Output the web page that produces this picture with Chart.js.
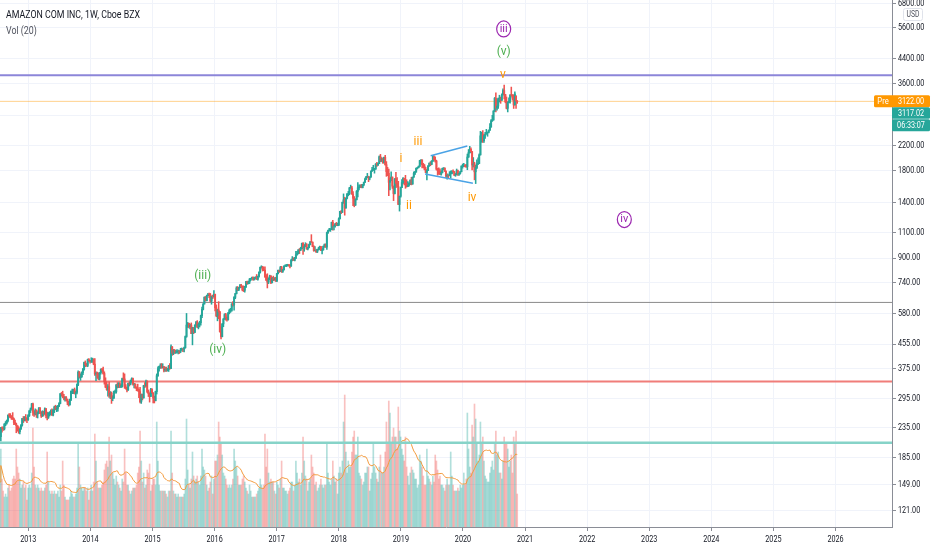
<!DOCTYPE html>
<html>
<head>
<meta charset="utf-8">
<script src="https://cdn.jsdelivr.net/npm/chart.js@4.4.1/dist/chart.umd.min.js"></script>
<style>
  html, body { margin: 0; padding: 0; background: #ffffff; overflow: hidden; }
  canvas { display: block; }
</style>
</head>
<body>
<canvas id="amznChart" width="932" height="550"></canvas>
<script>
// weekly candles, first bar = week of 16 Jul 2012, one row per calendar year
const firstWeek = Date.UTC(2012, 6, 16);

const opens = [
  222,218,234,233,232,241,243,248,259,257,255,254,251,244,241,238,234,227,232,239,252,250,254,251,250,
  258,268,272,283,265,261,269,261,264,274,263,257,266,262,272,258,254,263,264,267,259,270,276,271,273,278,284,307,306,300,296,297,293,287,281,293,313,313,317,310,310,330,364,350,351,362,372,393,386,384,402,399,
  397,398,399,388,359,361,357,346,362,372,370,360,338,323,317,324,303,308,297,297,312,312,329,327,332,325,327,346,345,324,321,316,333,331,339,346,331,331,323,322,317,312,288,305,297,327,326,338,312,307,300,318,
  309,296,290,312,354,374,381,383,380,380,370,373,370,372,382,375,445,423,433,426,427,430,430,429,434,438,437,442,483,529,536,522,529,494,518,499,529,540,521,532,539,570,599,625,659,642,668,673,672,640,665,662,
  675,607,570,596,587,502,482,534,555,575,561,552,583,594,594,625,620,659,679,710,702,712,725,717,699,697,717,746,735,744,758,766,772,757,769,774,761,778,805,837,839,822,818,776,755,744,760,780,740,768,757,760,
  750,795,817,808,835,810,821,845,845,850,853,852,845,886,894,884,898,924,934,961,959,971,1011,978,987,1003,968,978,1001,1025,1021,987,956,958,945,965,965,986,956,961,989,1002,982,1100,1120,1126,1129,1195,1162,1162,1179,1168,
  1169,1229,1305,1294,1402,1429,1339,1448,1500,1500,1571,1571,1495,1447,1371,1430,1527,1572,1580,1602,1574,1610,1641,1683,1715,1715,1700,1711,1797,1813,1818,1823,1896,1882,1905,2012,1952,1970,1915,2003,1889,1788,1764,1642,1665,1712,1593,1502,1690,1629,1591,1377,1470,
  1575,1640,1696,1670,1626,1588,1607,1631,1671,1620,1712,1764,1781,1837,1843,1864,1951,1962,1889,1869,1823,1775,1804,1870,1911,1893,1942,2011,1965,1943,1823,1807,1792,1749,1776,1833,1839,1794,1725,1739,1731,1761,1761,1791,1785,1739,1745,1800,1751,1760,1786,1869,
  1875,1883,1864,1861,2008,2079,2134,2095,1884,1901,1785,1846,1901,1906,2043,2375,2410,2286,2380,2409,2437,2443,2483,2546,2676,2693,2891,3200,2961,3008,3164,3167,3149,3285,3401,3294,3116,2954,3095,3125,3287,3273,3204,3036,3250,3128
];
const highs = [
  228,235,236,236,242,246,249,259,262,262,258,264,253,249,243,238,236,232,240,252,256,256,260,253,260,
  268,274,284,285,266,272,270,266,275,275,266,268,267,274,273,265,264,266,270,272,270,278,280,278,280,286,307,310,313,305,300,300,294,289,294,313,318,318,321,313,332,368,366,359,365,375,394,398,390,404,405,400,
  408,407,405,405,365,364,362,363,374,375,379,365,348,337,330,337,312,311,302,313,316,330,335,335,335,331,347,362,359,330,323,334,336,342,348,347,333,332,324,331,318,323,306,306,328,335,342,340,316,309,320,319,
  309,301,313,359,380,382,389,390,389,381,379,379,375,384,390,452,446,436,436,433,435,434,432,440,441,439,444,485,580,540,537,533,538,520,519,530,545,548,538,545,572,610,627,662,664,671,680,682,680,666,671,696,
  677,621,600,637,590,522,535,557,579,580,563,584,600,604,627,637,663,680,717,718,714,731,731,722,722,720,748,750,749,766,767,774,775,772,776,790,780,807,838,847,843,838,840,789,795,770,786,783,772,780,771,773,
  797,818,818,843,843,822,847,853,856,857,855,853,890,911,903,905,949,950,962,971,981,1013,1017,1001,1017,1010,979,1005,1027,1084,1023,993,987,962,967,980,990,988,973,990,1007,1008,1107,1123,1140,1138,1198,1214,1172,1185,1195,1188,
  1239,1305,1311,1403,1498,1459,1449,1500,1528,1578,1606,1591,1525,1467,1441,1539,1638,1611,1610,1616,1616,1646,1699,1722,1763,1724,1716,1797,1851,1880,1835,1906,1925,1915,2025,2050,1998,1989,2007,2033,1936,1850,1823,1698,1785,1713,1594,1691,1779,1704,1655,1473,1582,
  1677,1706,1697,1736,1676,1651,1634,1674,1709,1712,1784,1793,1838,1849,1870,1956,1964,1963,1910,1892,1849,1818,1874,1916,1935,1952,2035,2026,2010,1957,1834,1842,1829,1800,1838,1846,1841,1798,1758,1742,1788,1798,1801,1815,1790,1762,1825,1810,1766,1792,1870,1899,
  1910,1886,1895,2055,2130,2185,2158,2100,1999,1926,1880,1963,1993,2058,2461,2445,2475,2395,2440,2500,2450,2489,2620,2701,2796,2900,3220,3344,3190,3207,3278,3232,3315,3451,3552,3301,3232,3115,3210,3288,3497,3297,3291,3366,3270,3142
];
const lows = [
  215,211,226,229,230,238,241,245,254,253,250,250,240,240,225,228,224,223,231,237,244,247,247,244,248,
  256,264,271,258,256,259,254,253,262,262,254,256,257,260,253,249,252,257,259,258,257,264,270,266,267,277,283,301,297,292,289,290,281,278,280,290,307,307,306,297,306,327,347,341,349,357,370,380,381,380,396,391,
  393,393,386,355,340,347,343,342,358,365,358,331,322,315,301,298,295,284,290,295,308,308,321,322,322,322,323,340,320,318,311,315,326,329,336,328,321,320,314,313,297,285,284,292,296,322,325,309,300,287,300,307,
  285,285,290,306,352,367,375,375,376,365,366,366,367,366,373,374,416,418,422,422,424,421,422,425,433,428,427,440,480,519,517,513,494,452,494,498,523,518,513,521,528,561,597,625,640,641,666,658,636,624,652,660,
  592,565,547,556,500,474,482,522,553,550,545,550,578,585,590,614,595,652,677,695,695,710,712,694,690,687,712,731,733,735,752,763,756,757,763,760,755,774,799,831,812,814,772,754,710,735,758,735,739,752,755,748,
  747,793,803,808,803,803,818,842,841,845,844,833,843,880,884,880,897,922,930,933,955,969,927,950,985,965,960,976,1000,1020,985,950,953,941,940,958,964,955,931,958,980,980,965,1095,1115,1112,1128,1124,1125,1150,1165,1163,
  1165,1228,1280,1293,1390,1265,1338,1440,1475,1488,1566,1495,1365,1352,1366,1428,1462,1546,1576,1572,1571,1598,1640,1676,1704,1651,1675,1710,1792,1804,1766,1822,1863,1878,1905,1935,1936,1912,1914,1880,1722,1731,1476,1545,1663,1565,1420,1497,1575,1580,1377,1307,1459,
  1574,1624,1608,1566,1581,1586,1593,1611,1609,1617,1706,1746,1780,1825,1844,1862,1899,1840,1844,1812,1772,1673,1800,1864,1874,1890,1939,1963,1928,1810,1738,1748,1744,1737,1768,1815,1790,1703,1685,1700,1728,1700,1757,1775,1732,1722,1741,1733,1735,1752,1784,1838,
  1860,1855,1850,1815,2000,2070,2077,1811,1855,1675,1626,1830,1889,1906,2037,2256,2256,2256,2325,2405,2367,2430,2478,2542,2663,2690,2880,2871,2910,2952,3106,3074,3145,3285,3183,3086,2940,2871,3087,3080,3250,3153,2951,3030,2951,3073
];
const closes = [
  218,234,233,232,241,243,248,259,257,255,254,251,244,241,238,234,227,232,239,252,250,254,251,250,258,
  268,272,283,265,261,269,261,264,274,263,257,266,262,272,258,254,263,264,267,259,270,276,271,273,278,284,307,306,300,296,297,293,287,281,293,313,313,317,310,310,330,364,350,351,362,372,393,386,384,402,399,397,
  398,399,388,359,361,357,346,362,372,370,360,338,323,317,324,303,308,297,297,312,312,329,327,332,325,327,346,345,324,321,316,333,331,339,346,331,331,323,322,317,312,288,305,297,327,326,338,312,307,300,318,309,
  296,290,312,354,374,381,383,380,380,370,373,370,372,382,375,445,423,433,426,427,430,430,429,434,438,437,442,483,529,536,522,529,494,518,499,529,540,521,532,539,570,599,625,659,642,668,673,672,640,665,662,675,
  607,570,596,587,502,482,534,555,575,561,552,583,594,594,625,620,659,679,710,702,712,725,717,699,697,717,746,735,744,758,766,772,757,769,774,761,778,805,837,839,822,818,776,755,744,760,780,740,768,757,760,750,
  795,817,808,835,810,821,845,845,850,853,852,845,886,894,884,898,924,934,961,959,971,1011,978,987,1003,968,978,1001,1025,1021,987,956,958,945,965,965,986,956,961,989,1002,982,1100,1120,1126,1129,1195,1162,1162,1179,1168,1169,
  1229,1305,1294,1402,1429,1339,1448,1500,1500,1571,1571,1495,1447,1371,1430,1527,1572,1580,1602,1574,1610,1641,1683,1715,1715,1700,1711,1797,1813,1818,1823,1896,1882,1905,2012,1952,1970,1915,2003,1889,1788,1764,1642,1665,1712,1593,1502,1690,1629,1591,1377,1470,1575,
  1640,1696,1670,1626,1588,1607,1631,1671,1620,1712,1764,1781,1837,1843,1864,1951,1962,1889,1869,1823,1775,1804,1870,1911,1893,1942,2011,1965,1943,1823,1807,1792,1749,1776,1833,1839,1794,1725,1739,1731,1757,1761,1791,1785,1739,1745,1800,1751,1760,1786,1869,1875,
  1883,1864,1861,2008,2079,2134,2095,1884,1901,1785,1846,1901,1906,2043,2375,2410,2286,2380,2409,2437,2443,2483,2546,2676,2693,2891,3200,2961,3008,3164,3167,3149,3285,3401,3294,3116,2954,3095,3125,3287,3273,3204,3036,3311,3128,3117
];
// weekly volume, millions of shares
const volumes = [
  15,26,16,12,10,11,10,13,14,12,13,16,17,16,26,20,18,16,13,14,15,13,14,9,13,
  14,13,18,33,20,14,13,14,13,12,13,12,12,13,14,25,15,12,11,12,11,12,11,11,12,10,14,12,22,14,10,9,9,9,10,12,11,10,10,11,13,28,20,14,13,12,13,13,12,13,9,12,
  14,12,15,31,22,15,13,13,13,14,15,19,21,22,20,30,22,24,18,16,14,17,15,14,13,12,16,15,26,18,14,14,12,11,12,13,13,13,14,18,20,32,22,15,18,13,14,19,18,21,12,14,
  16,16,14,35,22,14,12,12,12,12,12,11,10,12,12,32,18,12,11,11,10,11,10,10,10,10,11,16,36,19,14,13,16,25,17,15,16,17,15,14,17,26,20,19,17,14,12,13,15,17,11,16,
  22,22,24,35,30,28,24,18,17,16,14,13,14,13,14,16,26,22,20,17,14,14,14,16,17,15,13,12,11,14,12,10,10,10,10,11,12,13,16,14,13,14,31,20,26,18,15,16,15,15,12,11,
  15,14,13,16,22,13,13,12,12,11,12,13,15,15,12,14,22,18,15,16,14,18,30,22,17,16,12,15,16,24,20,18,14,15,12,13,14,16,14,13,14,14,28,18,15,14,16,22,17,15,16,11,
  18,20,18,22,35,44,25,18,22,20,20,25,30,32,24,24,30,18,17,16,14,15,18,18,20,20,12,16,18,28,20,18,16,15,20,24,18,18,20,25,35,28,42,38,28,30,33,30,30,26,40,32,30,
  26,24,22,30,20,17,14,18,20,19,18,16,16,13,14,24,22,20,17,14,14,26,17,16,15,14,17,15,24,22,19,16,17,14,14,13,12,14,16,14,14,25,17,14,12,12,12,13,12,14,13,14,
  18,14,16,38,26,20,18,34,30,41,36,28,22,24,35,28,30,22,17,16,15,15,18,20,22,19,28,32,24,25,18,18,16,22,30,28,28,26,20,22,24,18,30,28,32,11
];

const yearTicks = [2013, 2014, 2015, 2016, 2017, 2018, 2019, 2020, 2021, 2022, 2023, 2024, 2025, 2026];
const priceTicks = [121, 149, 185, 235, 295, 375, 455, 580, 740, 900, 1100, 1400, 1800, 2200, 2800, 3600, 4400, 5600, 6800];

// horizontal levels drawn on the chart
const levelPrices = [3840, 3122, 633, 338, 208];
// contracting triangle, [decimal year, price]
const triangleUpper = [[2019.48, 2029], [2020.07, 2191]];
const triangleLower = [[2019.39, 1754], [2020.16, 1630]];
// wave counts: text, decimal year, price, degree
const waveLabels = [
  ['iii', 2020.656, 5548, 'primary'],
  ['iv', 2022.599, 1222, 'primary'],
  ['(iii)', 2015.809, 781, 'intermediate'],
  ['(iv)', 2016.05, 434, 'intermediate'],
  ['(v)', 2020.656, 4607, 'intermediate'],
  ['i', 2019.002, 1977, 'minor'],
  ['ii', 2019.131, 1361, 'minor'],
  ['iii', 2019.276, 2262, 'minor'],
  ['iv', 2020.146, 1450, 'minor'],
  ['v', 2020.645, 3849, 'minor']
];
const lastPrice = 3122;
const lastClose = 3117.02;

const UP = '#26a69a', DOWN = '#ef5350';
const X_MIN = 2012.544, X_MAX = 2026.91;

function decimalYear(ms) {
  const y = new Date(ms).getUTCFullYear();
  const a = Date.UTC(y, 0, 1), b = Date.UTC(y + 1, 0, 1);
  return y + (ms - a) / (b - a);
}
const times = closes.map((_, i) => decimalYear(firstWeek + i * 7 * 86400000));
const isUp = closes.map((c, i) => c >= opens[i]);

const wickData = times.map((t, i) => ({ x: t, y: [Math.min(lows[i], opens[i], closes[i]), Math.max(highs[i], opens[i], closes[i])] }));
const bodyData = times.map((t, i) => ({ x: t, y: [Math.min(opens[i], closes[i]), Math.max(opens[i], closes[i])] }));
const candleColors = isUp.map(u => (u ? UP : DOWN));
const volData = times.map((t, i) => ({ x: t, y: volumes[i] }));
const volColors = isUp.map(u => (u ? 'rgba(38,166,154,0.36)' : 'rgba(239,83,80,0.36)'));
// Vol (20): simple moving average of volume
const volMA = volumes.map((_, i) => {
  const w = volumes.slice(Math.max(0, i - 19), i + 1);
  return { x: times[i], y: w.reduce((a, b) => a + b, 0) / w.length };
});

const levelStyles = [
  { color: '#8c86d9', width: 2 },
  { color: 'rgba(255,152,0,0.45)', width: 1 },
  { color: '#8a8a8a', width: 1 },
  { color: '#f07d79', width: 2 },
  { color: '#86d3c8', width: 2.5 }
];
const levelSets = levelPrices.map((p, i) => ({
  type: 'line',
  data: [{ x: X_MIN, y: p }, { x: X_MAX, y: p }],
  borderColor: levelStyles[i].color,
  borderWidth: levelStyles[i].width,
  pointRadius: 0,
  yAxisID: 'y',
  order: 3
}));
const triangleSets = [triangleUpper, triangleLower].map(seg => ({
  type: 'line',
  data: seg.map(p => ({ x: p[0], y: p[1] })),
  borderColor: '#4aa3e6',
  borderWidth: 1.5,
  pointRadius: 0,
  yAxisID: 'y',
  order: 0
}));

const waveStyles = {
  primary: { color: '#9c27b0', circle: true, font: '11px Roboto' },
  intermediate: { color: '#4caf50', circle: false, font: '12px Roboto' },
  minor: { color: '#ff9800', circle: false, font: '12px Roboto' }
};

function roundRect(ctx, x, y, w, h, r) {
  ctx.beginPath();
  ctx.moveTo(x + r, y);
  ctx.arcTo(x + w, y, x + w, y + h, r);
  ctx.arcTo(x + w, y + h, x, y + h, r);
  ctx.arcTo(x, y + h, x, y, r);
  ctx.arcTo(x, y, x + w, y, r);
  ctx.closePath();
}

// TradingView text is narrow: squeeze Roboto horizontally
function narrowText(ctx, txt, x, y, align, sx) {
  ctx.save();
  ctx.translate(x, y);
  ctx.scale(sx, 1);
  ctx.textAlign = align;
  ctx.fillText(txt, 0, 0);
  ctx.restore();
}

const overlay = {
  id: 'overlay',
  afterDatasetsDraw(chart) {
    const ctx = chart.ctx, xs = chart.scales.x, ys = chart.scales.y;
    ctx.save();
    ctx.textAlign = 'center';
    ctx.textBaseline = 'middle';
    waveLabels.forEach(([txt, t, p, kind]) => {
      const st = waveStyles[kind];
      const px = xs.getPixelForValue(t), py = ys.getPixelForValue(p);
      ctx.fillStyle = st.color;
      ctx.font = st.font;
      ctx.fillText(txt, px, py);
      if (st.circle) {
        ctx.strokeStyle = st.color;
        ctx.lineWidth = 1.2;
        ctx.beginPath();
        ctx.ellipse(px, py, 7, 8, 0, 0, Math.PI * 2);
        ctx.stroke();
      }
    });
    ctx.restore();
  },
  afterDraw(chart) {
    const ctx = chart.ctx, xs = chart.scales.x, ys = chart.scales.y, area = chart.chartArea;
    ctx.save();
    ctx.textBaseline = 'middle';

    // axis labels
    ctx.fillStyle = '#131722';
    ctx.font = '9.5px Roboto';
    ys.ticks.forEach(t => narrowText(ctx, t.value.toFixed(2), area.right + 6, ys.getPixelForValue(t.value), 'left', 0.76));
    xs.ticks.forEach(t => narrowText(ctx, String(t.value), xs.getPixelForValue(t.value), area.bottom + 13, 'center', 0.76));

    // header
    ctx.font = '11px Roboto';
    const tw = ctx.measureText('AMAZON COM INC, 1W, Cboe BZX').width;
    narrowText(ctx, 'AMAZON COM INC, 1W, Cboe BZX', 6, 15, 'left', 134 / tw);
    ctx.fillStyle = '#50535e';
    narrowText(ctx, 'Vol (20)', 6, 31, 'left', 134 / tw);

    // USD badge
    ctx.strokeStyle = '#e0e3eb';
    ctx.lineWidth = 1;
    roundRect(ctx, 903.5, 8.5, 19, 12, 2);
    ctx.fillStyle = '#ffffff';
    ctx.fill();
    ctx.stroke();
    ctx.fillStyle = '#50535e';
    ctx.font = '8.5px Roboto';
    narrowText(ctx, 'USD', 913, 14.5, 'center', 0.8);

    // price tags on the axis
    const tagY = ys.getPixelForValue(lastPrice);
    ctx.font = '9.5px Roboto';
    ctx.fillStyle = '#ff9800';
    roundRect(ctx, area.right - 18, tagY - 6, 56, 12, 1.5);
    ctx.fill();
    ctx.fillStyle = '#ffffff';
    narrowText(ctx, 'Pre', area.right - 9, tagY, 'center', 0.8);
    narrowText(ctx, lastPrice.toFixed(2), area.right + 19, tagY, 'center', 0.76);
    ctx.fillStyle = '#26a69a';
    roundRect(ctx, area.right, tagY + 6, 38, 11.5, 1.5);
    ctx.fill();
    roundRect(ctx, area.right, tagY + 18, 38, 12, 1.5);
    ctx.fill();
    ctx.fillStyle = '#ffffff';
    narrowText(ctx, lastClose.toFixed(2), area.right + 19, tagY + 12, 'center', 0.76);
    narrowText(ctx, '06:33:07', area.right + 19, tagY + 24, 'center', 0.76);
    ctx.restore();
  }
};

new Chart(document.getElementById('amznChart'), {
  data: {
    datasets: [
      ...triangleSets,
      { type: 'bar', data: bodyData, backgroundColor: candleColors, barThickness: 1.3, grouped: false, yAxisID: 'y', order: 1 },
      { type: 'bar', data: wickData, backgroundColor: candleColors, barThickness: 0.9, grouped: false, yAxisID: 'y', order: 2 },
      ...levelSets,
      { type: 'line', data: volMA, borderColor: '#f39a3c', borderWidth: 1, pointRadius: 0, yAxisID: 'v', order: 4 },
      { type: 'bar', data: volData, backgroundColor: volColors, barThickness: 1, grouped: false, yAxisID: 'v', order: 5 }
    ]
  },
  options: {
    responsive: false,
    animation: false,
    events: [],
    layout: { padding: 0 },
    plugins: { legend: { display: false }, tooltip: { enabled: false }, title: { display: false } },
    scales: {
      x: {
        type: 'linear',
        position: 'bottom',
        min: X_MIN,
        max: X_MAX,
        offset: false,
        afterBuildTicks: s => { s.ticks = yearTicks.map(v => ({ value: v })); },
        afterFit: s => { s.height = 23; s.paddingLeft = 0; s.paddingRight = 0; },
        ticks: { display: false },
        grid: { color: '#f0f3fa', tickColor: '#8a8d96', tickLength: 4, offset: false },
        border: { display: true, color: '#8a8d96' }
      },
      y: {
        type: 'logarithmic',
        position: 'right',
        min: 106.5,
        max: 6980,
        afterBuildTicks: s => { s.ticks = priceTicks.map(v => ({ value: v })); },
        afterFit: s => { s.width = 40; s.paddingTop = 0; s.paddingBottom = 0; },
        ticks: { display: false },
        grid: { color: '#f0f3fa', tickColor: '#8a8d96', tickLength: 4 },
        border: { display: true, color: '#8a8d96' }
      },
      v: {
        type: 'linear',
        display: false,
        min: 0,
        max: 175.7
      }
    }
  },
  plugins: [overlay]
});
</script>
</body>
</html>
